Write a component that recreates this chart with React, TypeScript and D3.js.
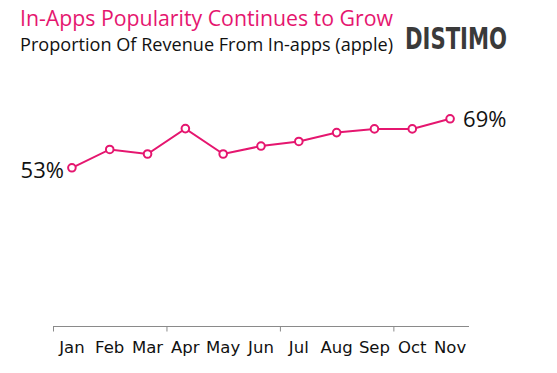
import React from "react";
import * as d3 from "d3";

const months = ["Jan", "Feb", "Mar", "Apr", "May", "Jun", "Jul", "Aug", "Sep", "Oct", "Nov"];
const share = [53, 59, 57.5, 65.8, 57.5, 60.1, 61.6, 64.5, 65.7, 65.7, 69];
const quarterStarts = ["Jan", "Apr", "Jul", "Oct"];
const title = "In-Apps Popularity Continues to Grow";
const subtitle = "Proportion Of Revenue From In-apps (apple)";
const brand = "DISTIMO";

const W = 557;
const H = 373;
const PINK = "#e5166f";

export default function App() {
  const x = d3.scaleBand<string>().domain(months).range([53, 469]).padding(0);
  const y = d3.scaleLinear().domain([53, 69]).range([167.8, 118.8]);
  const cx = (m: string) => (x(m) as number) + x.bandwidth() / 2;
  const line = d3
    .line<number>()
    .x((_, i) => cx(months[i]))
    .y((d) => y(d));
  const axisY = 326.5;
  const last = share.length - 1;

  return (
    <svg
      width={W}
      height={H}
      style={{ position: "absolute", left: 0, top: 0, background: "#fff" }}
    >
      <text
        x={20}
        y={25.5}
        fill={PINK}
        fontFamily="'Open Sans', sans-serif"
        fontSize={21}
        textLength={373}
        lengthAdjust="spacingAndGlyphs"
      >
        {title}
      </text>
      <text
        x={20}
        y={51}
        fill="#111"
        fontFamily="'Open Sans', sans-serif"
        fontSize={18.5}
        textLength={373}
        lengthAdjust="spacingAndGlyphs"
      >
        {subtitle}
      </text>
      <text
        x={405}
        y={49}
        fill="#3a3a3a"
        fontFamily="'Liberation Sans Narrow', 'DejaVu Sans Condensed', sans-serif"
        fontWeight="bold"
        fontSize={30}
        textLength={102}
        lengthAdjust="spacingAndGlyphs"
      >
        {brand}
      </text>

      <line x1={x(months[0])} x2={x.range()[1]} y1={axisY} y2={axisY} stroke="#8a8a8a" strokeWidth={1.2} />
      {quarterStarts.map((m) => (
        <line
          key={m}
          x1={(x(m) as number) + 0.5}
          x2={(x(m) as number) + 0.5}
          y1={axisY}
          y2={axisY + 5}
          stroke="#8a8a8a"
          strokeWidth={1}
        />
      ))}
      {months.map((m) => (
        <text
          key={m}
          x={cx(m)}
          y={352.5}
          textAnchor="middle"
          fill="#111"
          fontFamily="'DejaVu Sans', sans-serif"
          fontSize={16.5}
        >
          {m}
        </text>
      ))}

      <path d={line(share) || ""} fill="none" stroke={PINK} strokeWidth={2} />
      {share.map((v, i) => (
        <circle
          key={months[i]}
          cx={cx(months[i])}
          cy={y(v)}
          r={3.8}
          fill="#fff"
          stroke={PINK}
          strokeWidth={2}
        />
      ))}

      <text
        x={cx(months[0]) - 8}
        y={y(share[0]) + 10.5}
        textAnchor="end"
        fill="#111"
        fontFamily="'Open Sans', sans-serif"
        fontSize={22}
      >
        {`${share[0]}%`}
      </text>
      <text
        x={cx(months[last]) + 13}
        y={y(share[last]) + 8.5}
        textAnchor="start"
        fill="#111"
        fontFamily="'Open Sans', sans-serif"
        fontSize={22}
      >
        {`${share[last]}%`}
      </text>
    </svg>
  );
}
